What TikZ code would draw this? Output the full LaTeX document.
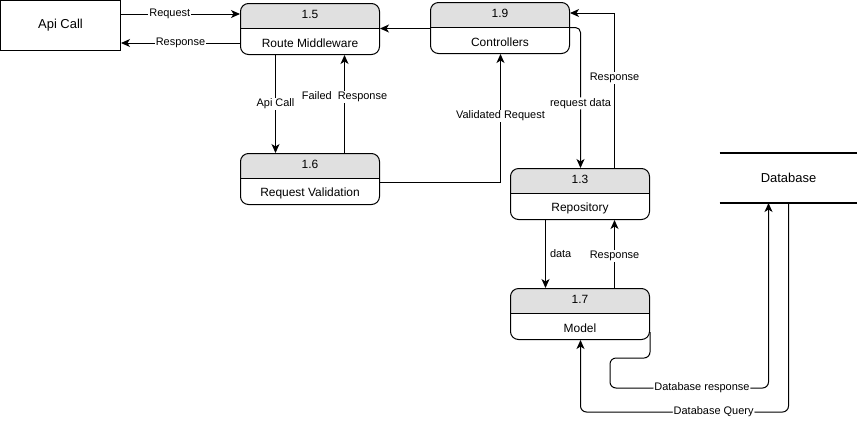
\documentclass[tikz,border=0pt]{standalone}
\usepackage{fontspec}
\setmainfont{Liberation Sans}
\usetikzlibrary{calc, arrows.meta}
\definecolor{headgray}{HTML}{e0e0e0}
\tikzstyle{proc}=[rounded corners=8bp, minimum width=139bp, minimum height=51bp, inner sep=0, draw=black, path picture={
  \fill [headgray, sharp corners] (path picture bounding box.north west) rectangle ([yshift=-25bp]path picture bounding box.north east);
  \draw [sharp corners] ([yshift=-25bp]path picture bounding box.north west) -- ([yshift=-25bp]path picture bounding box.north east);}]
\tikzstyle{boxtext}=[font=\fontsize{12}{14}\selectfont, inner sep=1pt]
\tikzstyle{lbl}=[font=\fontsize{11}{13}\selectfont, fill=white, inner sep=1pt]
\tikzstyle{flow}=[-{Stealth[length=9bp, width=8bp, inset=2.5bp]}]

\begin{document}
\begin{tikzpicture}[x=1bp, y=-1bp, line width=1bp]

\useasboundingbox (0, 0) rectangle (857, 425);

\node [draw, minimum width=120bp, minimum height=50bp, font=\fontsize{13}{15}\selectfont] (api) at (60.5, 25.5) {Api Call};

\node [proc] (P15) at (310, 29) {};
\node [proc] (P16) at (310, 179) {};
\node [proc] (P19) at (500, 28) {};
\node [proc] (P13) at (580, 194) {};
\node [proc] (P17) at (580, 314) {};

\node [boxtext] (N15) at ([yshift=-11bp]P15.north) {1.5};
\node [boxtext] (N16) at ([yshift=-11bp]P16.north) {1.6};
\node [boxtext] (N19) at ([yshift=-11bp]P19.north) {1.9};
\node [boxtext] (N13) at ([yshift=-11bp]P13.north) {1.3};
\node [boxtext] (N17) at ([yshift=-11bp]P17.north) {1.7};

\node [boxtext] (T15) at ([yshift=12bp]P15.south) {Route Middleware};
\node [boxtext] (T16) at ([yshift=12bp]P16.south) {Request Validation};
\node [boxtext] (T19) at ([yshift=12bp]P19.south) {Controllers};
\node [boxtext] (T13) at ([yshift=12bp]P13.south) {Repository};
\node [boxtext] (T17) at ([yshift=12bp]P17.south) {Model};

\node [minimum width=137bp, minimum height=49bp, font=\fontsize{13}{15}\selectfont] (db) at (788.5, 178) {Database};
\draw [line width=1.5bp] (db.north west) -- (db.north east);
\draw [line width=1.5bp] (db.south west) -- (db.south east);

\draw [flow] (api.east |- N15) -- node [lbl, pos=0.41] {Request} (P15.west |- N15);
\draw [flow] (P15.west |- T15) -- node [lbl] {Response} (api.east |- T15);
\draw [flow] ([yshift=0.5bp]P15.east -| P19.west) -- ([yshift=0.5bp]P15.east);

\draw [flow] ([xshift=-34.5bp]P15.south) -- node [lbl] {Api Call} ([xshift=-34.5bp]P16.north);
\draw [flow] ([xshift=34.5bp]P16.north) -- node [lbl, pos=0.57] {Failed~~Response} ([xshift=34.5bp]P15.south);
\draw [flow] ([yshift=-3.5bp]P16.east) -| node [lbl, pos=0.76] {Validated Request} ([xshift=0.5bp]P19.south);

\draw [flow, rounded corners=5bp] ([yshift=0.5bp]P19.east) -| node [lbl, pos=0.77] {request data} ([xshift=0.5bp]P13.north);
\draw [flow] ([xshift=34.5bp]P13.north) |- node [lbl, pos=0.29] {Response} (P19.east |- N19);

\draw [flow] ([xshift=-34.5bp]P13.south) -- node [lbl, right=3bp] {data} ([xshift=-34.5bp]P17.north);
\draw [flow] ([xshift=34.5bp]P17.north) -- node [lbl, pos=0.47] {Response} ([xshift=34.5bp]P13.south);

\draw [flow, rounded corners=6bp] ([yshift=8bp]P17.south east) -- ++(0, 26) -| ++(-40, 30) -| node [lbl, pos=0.29] {Database response} ([xshift=-20bp]db.south);
\draw [flow, rounded corners=6bp] (db.south) -- ++(0, 209) -| node [lbl, pos=0.18] {Database Query} ([xshift=0.5bp]P17.south);

\end{tikzpicture}
\end{document}
